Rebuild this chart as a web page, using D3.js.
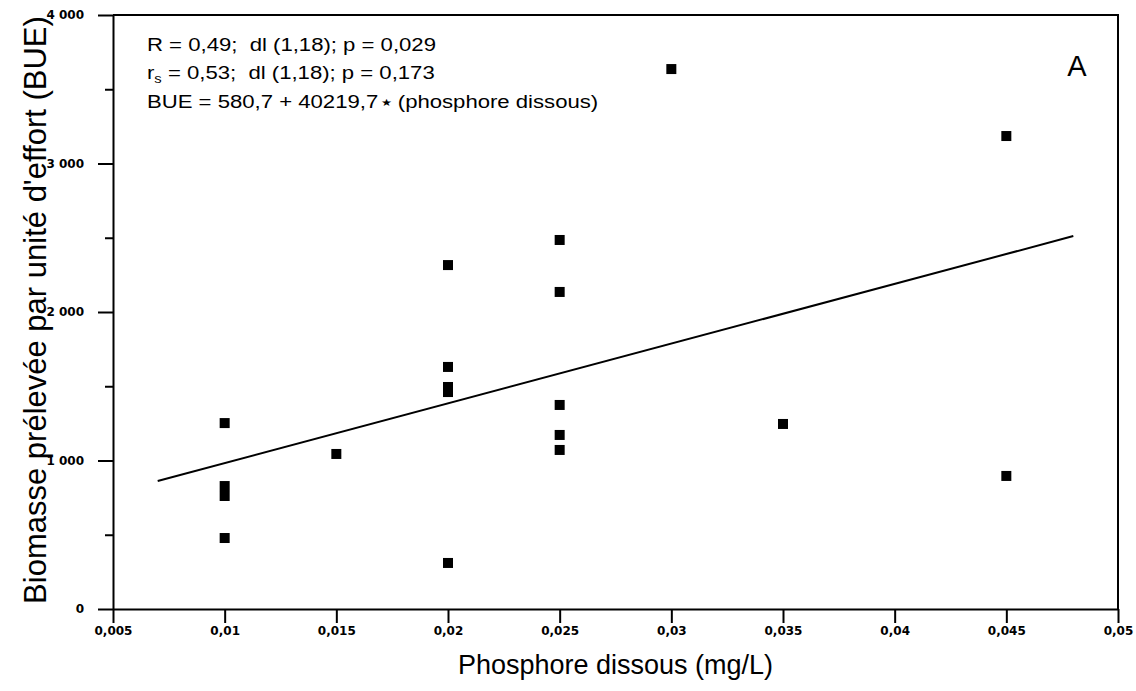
<!DOCTYPE html>
<html>
<head>
<meta charset="utf-8">
<script src="https://cdn.jsdelivr.net/npm/d3@7"></script>
<style>
  body { margin: 0; background: #fff; }
  svg { display: block; font-family: "Liberation Sans", Arial, sans-serif; }
  .axis path, .axis line { stroke: #000; stroke-width: 2; }
  .axis text { font-family: "DejaVu Sans", sans-serif; font-weight: bold; fill: #000; }
  .stats text { white-space: pre; }
</style>
</head>
<body>
<svg id="chart" width="1136" height="691"></svg>
<script>
// phosphore dissous (mg/L) and BUE
var phosphore = [0.01, 0.01, 0.01, 0.01, 0.015, 0.02, 0.02, 0.02, 0.02, 0.02,
  0.025, 0.025, 0.025, 0.025, 0.025, 0.03, 0.035, 0.045, 0.045];
var bue = [1252, 828, 761, 478, 1044, 2316, 1630, 1495, 1461, 310,
  2485, 2135, 1374, 1172, 1071, 3636, 1246, 3185, 896];

var xTicks = [0.005, 0.01, 0.015, 0.02, 0.025, 0.03, 0.035, 0.04, 0.045, 0.05];
var yTicks = [0, 1000, 2000, 3000, 4000];
var yMinorTicks = [500, 1500, 2500, 3500];

// regression BUE = 580,7 + 40219,7 * P
var regIntercept = 580.7;
var regSlope = 40219.7;
var regExtent = [0.007, 0.048];

var statLines = [
  ["R = 0,49;  dl (1,18); p = 0,029"],
  ["r", "s", " = 0,53;  dl (1,18); p = 0,173"],
  ["BUE = 580,7 + 40219,7", "\u2605", " (phosphore dissous)"]
];
var panelLabel = "A";
var xLabel = "Phosphore dissous (mg/L)";
var yLabel = "Biomasse prélevée par unité d'effort (BUE)";

var svg = d3.select("#chart"),
  margin = {top: 15, right: 18, bottom: 82, left: 113},
  width = 1136, height = 691,
  x = d3.scaleLinear().domain([0.005, 0.05]).range([margin.left, width - margin.right]),
  y = d3.scaleLinear().domain([0, 4000]).range([height - margin.bottom, margin.top]),
  locale = d3.formatLocale({decimal: ",", thousands: " ", grouping: [3], currency: ["", ""]}),
  yFormat = locale.format(","),
  xFormat = function(d) { return String(+d.toFixed(3)).replace(".", ","); },
  line = d3.line()
    .x(function(d) { return x(d); })
    .y(function(d) { return y(regIntercept + regSlope * d); });

// frame (top and right)
svg.append("path")
  .attr("fill", "none")
  .attr("stroke", "#000")
  .attr("stroke-width", 2)
  .attr("d", "M" + x.range()[0] + "," + y(4000) + "H" + x.range()[1] + "V" + y(0));

// x axis
var xAxis = svg.append("g")
  .attr("class", "x axis")
  .attr("transform", "translate(0," + y(0) + ")")
  .call(d3.axisBottom(x).tickValues(xTicks).tickSize(14).tickSizeOuter(0).tickPadding(3).tickFormat(xFormat));
xAxis.selectAll("text")
  .attr("font-size", 12);

// y axis
var yAxis = svg.append("g")
  .attr("class", "y axis")
  .attr("transform", "translate(" + x(0.005) + ",0)")
  .call(d3.axisLeft(y).tickValues(yTicks).tickSize(15).tickSizeOuter(0).tickPadding(14).tickFormat(yFormat));
yAxis.selectAll("text")
  .attr("font-size", 12);

svg.append("g")
  .attr("class", "y axis minor")
  .attr("transform", "translate(" + x(0.005) + ",0)")
  .call(d3.axisLeft(y).tickValues(yMinorTicks).tickSize(8).tickSizeOuter(0).tickFormat(""))
  .select(".domain").remove();

// regression line
svg.append("path")
  .datum(regExtent)
  .attr("fill", "none")
  .attr("stroke", "#000")
  .attr("stroke-width", 2)
  .attr("d", line);

// points
svg.append("g")
  .selectAll("rect")
  .data(bue)
  .enter()
  .append("rect")
    .attr("x", function(d, i) { return x(phosphore[i]) - 5; })
    .attr("y", function(d) { return y(d) - 5; })
    .attr("width", 10)
    .attr("height", 10)
    .attr("fill", "#000");

// stats annotation
var stats = svg.append("g")
  .attr("class", "stats")
  .attr("transform", "translate(147,0) scale(1.23,1)");
stats.selectAll("text")
  .data(statLines)
  .enter()
  .append("text")
    .attr("x", 0)
    .attr("y", function(d, i) { return 51 + i * 28.5; })
    .attr("font-size", 18)
    .attr("fill", "#000")
    .each(function(d, i) {
      var t = d3.select(this);
      t.append("tspan").text(d[0]);
      if (i === 1) {
        t.append("tspan").attr("font-size", 12).attr("dy", 4).text(d[1]);
        t.append("tspan").attr("dy", -4).text(d[2]);
      } else if (i === 2) {
        t.append("tspan").attr("font-size", 10).attr("dy", -2).attr("dx", 2).text(d[1]);
        t.append("tspan").attr("dy", 2).text(d[2]);
      }
    });

svg.append("text")
  .attr("x", 1077)
  .attr("y", 76)
  .attr("text-anchor", "middle")
  .attr("font-size", 29)
  .attr("fill", "#000")
  .text(panelLabel);

// axis titles
svg.append("text")
  .attr("x", x(0.0275))
  .attr("y", 674)
  .attr("text-anchor", "middle")
  .attr("font-size", 27)
  .attr("fill", "#000")
  .text(xLabel);

svg.append("text")
  .attr("transform", "translate(46," + (y(2000) - 2) + ") rotate(-90)")
  .attr("text-anchor", "middle")
  .attr("font-size", 31)
  .attr("fill", "#000")
  .text(yLabel);
</script>
</body>
</html>
